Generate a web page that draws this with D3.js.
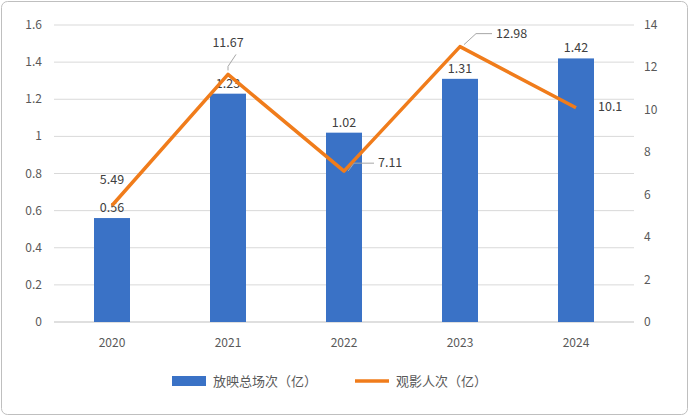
<!DOCTYPE html><html><head><meta charset="utf-8"><script src="https://cdn.jsdelivr.net/npm/d3@7"></script>
<style>body{margin:0;background:#fff}svg{font-family:"Noto Sans CJK SC","Noto Sans",sans-serif}</style></head><body><svg width="689" height="416"></svg>
<script>
const years=["2020","2021","2022","2023","2024"];
const screenings=[0.56,1.23,1.02,1.31,1.42];
const attendance=[5.49,11.67,7.11,12.98,10.1];
const leftTicks=["0","0.2","0.4","0.6","0.8","1","1.2","1.4","1.6"];
const svg=d3.select("svg");
svg.append("rect").attr("x",1.5).attr("y",1.5).attr("width",686).attr("height",413).attr("rx",6).attr("fill","#fff").attr("stroke","#bfbfbf");
const x=d3.scaleBand().domain(years).range([54,634]);
const yL=d3.scaleLinear().domain([0,1.6]).range([322,25]);
const yR=d3.scaleLinear().domain([0,14]).range([322,25]);
const tc="#595959";
leftTicks.forEach(t=>{const v=+t;
 svg.append("line").attr("x1",54).attr("x2",634).attr("y1",yL(v)).attr("y2",yL(v)).attr("stroke",v==0?"#bfbfbf":"#d9d9d9");
 svg.append("text").attr("x",42).attr("y",yL(v)+4).attr("text-anchor","end").attr("font-size",12).attr("fill",tc).text(t);});
d3.range(0,15,2).forEach(v=>svg.append("text").attr("x",644).attr("y",yR(v)+4).attr("font-size",12).attr("fill",tc).text(v));
years.forEach(y=>svg.append("text").attr("x",x(y)+x.bandwidth()/2).attr("y",347).attr("text-anchor","middle").attr("font-size",12).attr("fill",tc).text(y));
const bw=36;
svg.selectAll(".bar").data(screenings).join("rect").attr("x",(d,i)=>x(years[i])+x.bandwidth()/2-bw/2).attr("width",bw).attr("y",d=>yL(d)).attr("height",d=>322-yL(d)).attr("fill","#3a72c6");
svg.selectAll(".bl").data(screenings).join("text").attr("x",(d,i)=>x(years[i])+x.bandwidth()/2).attr("y",d=>yL(d)-6).attr("text-anchor","middle").attr("font-size",12.5).attr("fill","#404040").text(d=>d.toFixed(2));
const cx=i=>x(years[i])+x.bandwidth()/2;
svg.append("path").datum(attendance).attr("d",d3.line().x((d,i)=>cx(i)).y(d=>yR(d))).attr("fill","none").attr("stroke","#f07c1b").attr("stroke-width",3.5).attr("stroke-linejoin","round");
// line labels: [dx,dy,anchor,leader]
const lab=[[0,-22,"middle",false],[0,-27,"middle",true],[34,-8,"start",true],[36,-13,"start",true],[22,3,"start",false]];
attendance.forEach((d,i)=>{const px=cx(i),py=yR(d),[dx,dy,a,l]=lab[i];
 if(l){let tx=px+dx, ty=py+dy;
  if(i==1)svg.append("polyline").attr("points",`${px},${py-4} ${px},${py-8} ${px+8},${py-20}`).attr("fill","none").attr("stroke","#a6a6a6");
  if(i==2)svg.append("polyline").attr("points",`${px+4},${py} ${px+10},${py-8} ${px+30},${py-8}`).attr("fill","none").attr("stroke","#a6a6a6").attr("transform",`translate(0,${0})`);
  if(i==3)svg.append("polyline").attr("points",`${px+4},${py-2} ${px+16},${py-13} ${px+32},${py-13}`).attr("fill","none").attr("stroke","#a6a6a6");
 }
 svg.append("text").attr("x",px+dx).attr("y",py+dy+(i==2?4:i==3?4:0)).attr("text-anchor",a).attr("font-size",12.5).attr("fill","#404040").text(d);});
svg.append("rect").attr("x",172).attr("y",376).attr("width",34).attr("height",10).attr("fill","#3a72c6");
svg.append("text").attr("x",213).attr("y",386).attr("font-size",13).attr("fill",tc).text("放映总场次（亿）");
svg.append("line").attr("x1",355).attr("x2",389).attr("y1",381).attr("y2",381).attr("stroke","#f07c1b").attr("stroke-width",3.5);
svg.append("text").attr("x",396).attr("y",386).attr("font-size",13).attr("fill",tc).text("观影人次（亿）");
</script></body></html>
